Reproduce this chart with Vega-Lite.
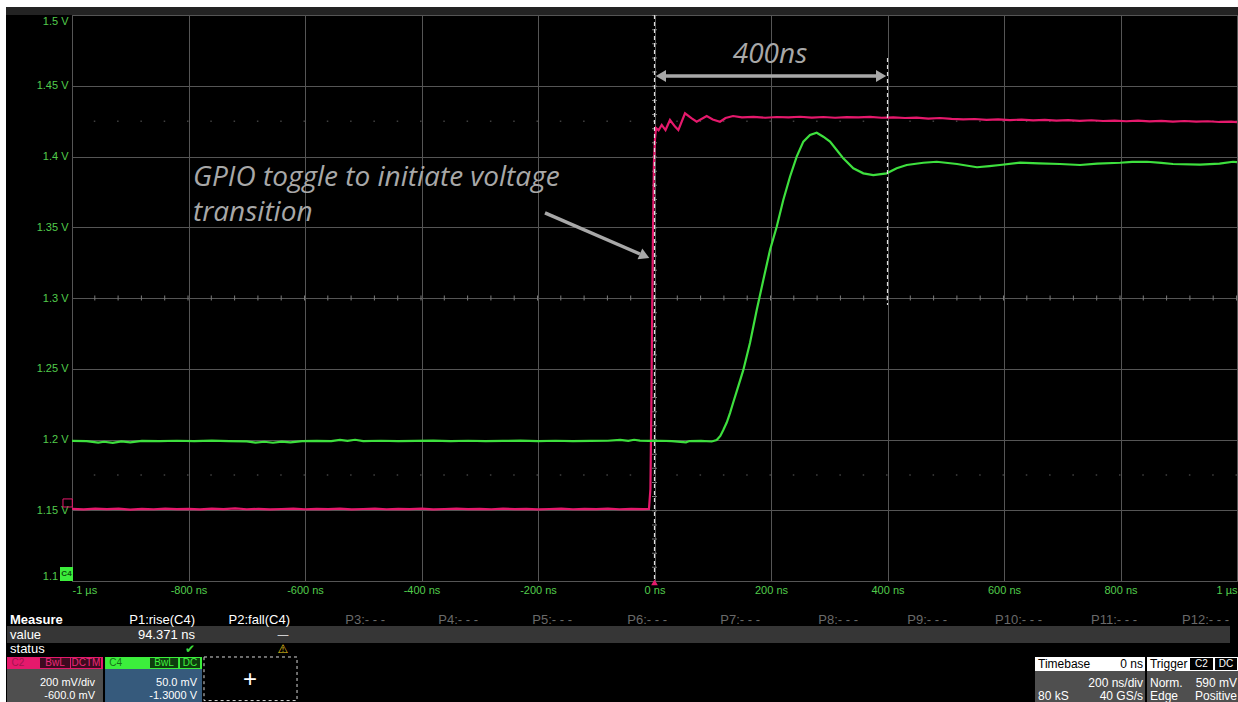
{
  "$schema": "https://vega.github.io/schema/vega-lite/v6.json",
  "width": 1165,
  "height": 566,
  "autosize": {"type": "none"},
  "padding": {"left": 72, "top": 15, "right": 1, "bottom": 121},
  "background": "#000000",
  "config": {
    "view": {"stroke": "#5a5a5a", "strokeWidth": 1},
    "axis": {"domain": false, "ticks": false, "labelColor": "#52cc4c", "labelFont": "Liberation Sans", "labelFontSize": 11, "gridColor": "#555555", "gridWidth": 1, "labelOverlap": false},
    "text": {"font": "Liberation Sans", "baseline": "middle"}
  },
  "datasets": {
    "traces": [
      {"ch":"C2","t":-1000,"v":1.1510},{"ch":"C2","t":-980,"v":1.1506},{"ch":"C2","t":-960,"v":1.1512},{"ch":"C2","t":-940,"v":1.1508},{"ch":"C2","t":-920,"v":1.1511},{"ch":"C2","t":-900,"v":1.1505},{"ch":"C2","t":-880,"v":1.1510},{"ch":"C2","t":-860,"v":1.1507},{"ch":"C2","t":-840,"v":1.1512},{"ch":"C2","t":-820,"v":1.1508},{"ch":"C2","t":-800,"v":1.1510},{"ch":"C2","t":-780,"v":1.1506},{"ch":"C2","t":-760,"v":1.1511},{"ch":"C2","t":-740,"v":1.1508},{"ch":"C2","t":-720,"v":1.1513},{"ch":"C2","t":-700,"v":1.1507},{"ch":"C2","t":-680,"v":1.1510},{"ch":"C2","t":-660,"v":1.1506},{"ch":"C2","t":-640,"v":1.1509},{"ch":"C2","t":-620,"v":1.1512},{"ch":"C2","t":-600,"v":1.1507},{"ch":"C2","t":-580,"v":1.1510},{"ch":"C2","t":-560,"v":1.1508},{"ch":"C2","t":-540,"v":1.1511},{"ch":"C2","t":-520,"v":1.1506},{"ch":"C2","t":-500,"v":1.1509},{"ch":"C2","t":-480,"v":1.1512},{"ch":"C2","t":-460,"v":1.1507},{"ch":"C2","t":-440,"v":1.1510},{"ch":"C2","t":-420,"v":1.1508},{"ch":"C2","t":-400,"v":1.1511},{"ch":"C2","t":-380,"v":1.1506},{"ch":"C2","t":-360,"v":1.1509},{"ch":"C2","t":-340,"v":1.1512},{"ch":"C2","t":-320,"v":1.1508},{"ch":"C2","t":-300,"v":1.1510},{"ch":"C2","t":-280,"v":1.1507},{"ch":"C2","t":-260,"v":1.1511},{"ch":"C2","t":-240,"v":1.1508},{"ch":"C2","t":-220,"v":1.1510},{"ch":"C2","t":-200,"v":1.1506},{"ch":"C2","t":-180,"v":1.1509},{"ch":"C2","t":-160,"v":1.1512},{"ch":"C2","t":-140,"v":1.1507},{"ch":"C2","t":-120,"v":1.1510},{"ch":"C2","t":-100,"v":1.1508},{"ch":"C2","t":-80,"v":1.1511},{"ch":"C2","t":-60,"v":1.1507},{"ch":"C2","t":-40,"v":1.1510},{"ch":"C2","t":-20,"v":1.1508},{"ch":"C2","t":-9.5,"v":1.1509},
      {"ch":"C2","t":-7,"v":1.1650},{"ch":"C2","t":-5.5,"v":1.2200},{"ch":"C2","t":-4,"v":1.2900},{"ch":"C2","t":-2.5,"v":1.3500},{"ch":"C2","t":-1,"v":1.3950},{"ch":"C2","t":0.8,"v":1.4120},{"ch":"C2","t":2.6,"v":1.4201},{"ch":"C2","t":7,"v":1.4185},{"ch":"C2","t":12.4,"v":1.4223},{"ch":"C2","t":18.9,"v":1.4187},{"ch":"C2","t":26.6,"v":1.4258},{"ch":"C2","t":35.2,"v":1.4211},{"ch":"C2","t":40.9,"v":1.4187},{"ch":"C2","t":52.4,"v":1.4305},{"ch":"C2","t":63.9,"v":1.4270},{"ch":"C2","t":72.4,"v":1.4246},{"ch":"C2","t":89.6,"v":1.4286},{"ch":"C2","t":100,"v":1.4262},{"ch":"C2","t":112.4,"v":1.4246},{"ch":"C2","t":122,"v":1.4272},{"ch":"C2","t":134.8,"v":1.4286},{"ch":"C2","t":150,"v":1.4276},
      {"ch":"C2","t":170,"v":1.4280},{"ch":"C2","t":190,"v":1.4274},{"ch":"C2","t":210,"v":1.4279},{"ch":"C2","t":230,"v":1.4276},{"ch":"C2","t":250,"v":1.4281},{"ch":"C2","t":270,"v":1.4275},{"ch":"C2","t":290,"v":1.4279},{"ch":"C2","t":310,"v":1.4274},{"ch":"C2","t":330,"v":1.4278},{"ch":"C2","t":350,"v":1.4276},{"ch":"C2","t":370,"v":1.4280},{"ch":"C2","t":390,"v":1.4274},{"ch":"C2","t":410,"v":1.4277},{"ch":"C2","t":430,"v":1.4272},{"ch":"C2","t":450,"v":1.4275},{"ch":"C2","t":470,"v":1.4268},{"ch":"C2","t":490,"v":1.4272},{"ch":"C2","t":510,"v":1.4266},{"ch":"C2","t":530,"v":1.4262},{"ch":"C2","t":550,"v":1.4265},{"ch":"C2","t":570,"v":1.4259},{"ch":"C2","t":590,"v":1.4262},{"ch":"C2","t":610,"v":1.4257},{"ch":"C2","t":630,"v":1.4261},{"ch":"C2","t":650,"v":1.4256},{"ch":"C2","t":670,"v":1.4259},{"ch":"C2","t":690,"v":1.4254},{"ch":"C2","t":710,"v":1.4257},{"ch":"C2","t":730,"v":1.4252},{"ch":"C2","t":750,"v":1.4256},{"ch":"C2","t":770,"v":1.4251},{"ch":"C2","t":790,"v":1.4254},{"ch":"C2","t":810,"v":1.4249},{"ch":"C2","t":830,"v":1.4253},{"ch":"C2","t":850,"v":1.4248},{"ch":"C2","t":870,"v":1.4252},{"ch":"C2","t":890,"v":1.4247},{"ch":"C2","t":910,"v":1.4251},{"ch":"C2","t":930,"v":1.4246},{"ch":"C2","t":950,"v":1.4249},{"ch":"C2","t":970,"v":1.4244},{"ch":"C2","t":990,"v":1.4247},{"ch":"C2","t":1000,"v":1.4243},
      {"ch":"C4","t":-1000,"v":1.1990},{"ch":"C4","t":-975,"v":1.1988},{"ch":"C4","t":-955,"v":1.1978},{"ch":"C4","t":-945,"v":1.1984},{"ch":"C4","t":-930,"v":1.1976},{"ch":"C4","t":-915,"v":1.1986},{"ch":"C4","t":-900,"v":1.1980},{"ch":"C4","t":-880,"v":1.1990},{"ch":"C4","t":-850,"v":1.1988},{"ch":"C4","t":-820,"v":1.1991},{"ch":"C4","t":-790,"v":1.1989},{"ch":"C4","t":-760,"v":1.1992},{"ch":"C4","t":-730,"v":1.1989},{"ch":"C4","t":-700,"v":1.1987},{"ch":"C4","t":-685,"v":1.1978},{"ch":"C4","t":-670,"v":1.1984},{"ch":"C4","t":-655,"v":1.1977},{"ch":"C4","t":-640,"v":1.1985},{"ch":"C4","t":-625,"v":1.1980},{"ch":"C4","t":-605,"v":1.1989},{"ch":"C4","t":-580,"v":1.1990},{"ch":"C4","t":-555,"v":1.1988},{"ch":"C4","t":-540,"v":1.1997},{"ch":"C4","t":-527,"v":1.1990},{"ch":"C4","t":-514,"v":1.1998},{"ch":"C4","t":-500,"v":1.1989},{"ch":"C4","t":-470,"v":1.1991},{"ch":"C4","t":-440,"v":1.1988},{"ch":"C4","t":-410,"v":1.1990},{"ch":"C4","t":-380,"v":1.1992},{"ch":"C4","t":-350,"v":1.1989},{"ch":"C4","t":-320,"v":1.1991},{"ch":"C4","t":-290,"v":1.1988},{"ch":"C4","t":-260,"v":1.1990},{"ch":"C4","t":-230,"v":1.1992},{"ch":"C4","t":-200,"v":1.1989},{"ch":"C4","t":-170,"v":1.1991},{"ch":"C4","t":-140,"v":1.1988},{"ch":"C4","t":-110,"v":1.1990},{"ch":"C4","t":-80,"v":1.1991},{"ch":"C4","t":-59,"v":1.1997},{"ch":"C4","t":-45,"v":1.1991},{"ch":"C4","t":-35,"v":1.1998},{"ch":"C4","t":-25,"v":1.1992},{"ch":"C4","t":-10,"v":1.1990},{"ch":"C4","t":10,"v":1.1991},{"ch":"C4","t":30,"v":1.1989},{"ch":"C4","t":54,"v":1.1980},{"ch":"C4","t":60,"v":1.1989},{"ch":"C4","t":80,"v":1.1990},
      {"ch":"C4","t":98.2,"v":1.1986},{"ch":"C4","t":106.8,"v":1.1996},{"ch":"C4","t":113,"v":1.2025},{"ch":"C4","t":118.1,"v":1.2067},{"ch":"C4","t":124,"v":1.2120},{"ch":"C4","t":129.6,"v":1.2187},{"ch":"C4","t":135,"v":1.2260},{"ch":"C4","t":141.1,"v":1.2340},{"ch":"C4","t":152.4,"v":1.2490},{"ch":"C4","t":163.9,"v":1.2682},{"ch":"C4","t":175.5,"v":1.2915},{"ch":"C4","t":186.8,"v":1.3127},{"ch":"C4","t":198.3,"v":1.3339},{"ch":"C4","t":209.8,"v":1.3504},{"ch":"C4","t":221.1,"v":1.3693},{"ch":"C4","t":232.6,"v":1.3857},{"ch":"C4","t":244.1,"v":1.3999},{"ch":"C4","t":255.5,"v":1.4105},{"ch":"C4","t":267,"v":1.4152},{"ch":"C4","t":278.5,"v":1.4168},{"ch":"C4","t":289.8,"v":1.4140},{"ch":"C4","t":301.3,"v":1.4105},{"ch":"C4","t":312.8,"v":1.4046},{"ch":"C4","t":324.1,"v":1.3987},{"ch":"C4","t":341.3,"v":1.3917},{"ch":"C4","t":358.5,"v":1.3881},{"ch":"C4","t":375.6,"v":1.3869},{"ch":"C4","t":398.6,"v":1.3881},{"ch":"C4","t":415.8,"v":1.3917},{"ch":"C4","t":433,"v":1.3940},{"ch":"C4","t":461.5,"v":1.3956},{"ch":"C4","t":484.5,"v":1.3963},{"ch":"C4","t":519.3,"v":1.3947},{"ch":"C4","t":553.6,"v":1.3924},{"ch":"C4","t":575,"v":1.3932},{"ch":"C4","t":593.1,"v":1.3940},{"ch":"C4","t":627.5,"v":1.3956},{"ch":"C4","t":660,"v":1.3952},{"ch":"C4","t":696.1,"v":1.3947},{"ch":"C4","t":730.5,"v":1.3940},{"ch":"C4","t":760,"v":1.3950},{"ch":"C4","t":799.1,"v":1.3956},{"ch":"C4","t":820,"v":1.3962},{"ch":"C4","t":845.5,"v":1.3963},{"ch":"C4","t":870,"v":1.3955},{"ch":"C4","t":890.1,"v":1.3947},{"ch":"C4","t":936.5,"v":1.3942},{"ch":"C4","t":970,"v":1.3950},{"ch":"C4","t":993.1,"v":1.3963},{"ch":"C4","t":1000,"v":1.3960}
    ],
    "panelRects": [
      {"part":"screenEdge","t":-1123.6,"t2":1001.7,"v":1.5106,"v2":1.50565},
      {"part":"screenEdge","t":-1123.6,"t2":-1113.3,"v":1.5106,"v2":1.0145},
      {"part":"titleBar","t":-1113.3,"t2":1001.7,"v":1.50565,"v2":1.5},
      {"part":"valueRow","t":-1111.6,"t2":988,"v":1.0682,"v2":1.0562},
      {"part":"c2Head","t":-1111.6,"t2":-946.8,"v":1.04629,"v2":1.03781},
      {"part":"chBody","t":-1111.6,"t2":-946.8,"v":1.03781,"v2":1.0145},
      {"part":"c2Tag","t":-1054.9,"t2":-1003.4,"v":1.0456,"v2":1.0385},
      {"part":"c2Tag","t":-1001.7,"t2":-950.2,"v":1.0456,"v2":1.0385},
      {"part":"c4Head","t":-943.3,"t2":-776.8,"v":1.04629,"v2":1.03781},
      {"part":"c4Body","t":-943.3,"t2":-776.8,"v":1.03781,"v2":1.0145},
      {"part":"c4Tag","t":-866.1,"t2":-817.9,"v":1.0456,"v2":1.0385},
      {"part":"c4Tag","t":-814.6,"t2":-780.3,"v":1.0456,"v2":1.0385},
      {"part":"boxHead","t":653.2,"t2":842.1,"v":1.04629,"v2":1.0364},
      {"part":"chBody","t":653.2,"t2":842.1,"v":1.0364,"v2":1.0145},
      {"part":"boxHead","t":845.5,"t2":1001.7,"v":1.04629,"v2":1.0364},
      {"part":"chBody","t":845.5,"t2":1001.7,"v":1.0364,"v2":1.0145},
      {"part":"trigTag","t":919.3,"t2":958.8,"v":1.0456,"v2":1.0371},
      {"part":"trigTag","t":962.3,"t2":1000,"v":1.0456,"v2":1.0371},
      {"part":"c4Marker","t":-1020.6,"t2":-998.3,"v":1.1099,"v2":1.1}
    ],
    "panelText": [
      {"label":"Measure","role":"head","t":-1106.4,"v":1.07244},
      {"label":"value","role":"rowName","t":-1106.4,"v":1.06184},
      {"label":"status","role":"rowName","t":-1106.4,"v":1.05194},
      {"label":"P1:rise(C4)","role":"param","t":-788.8,"v":1.07244},
      {"label":"P2:fall(C4)","role":"param","t":-625.8,"v":1.07244},
      {"label":"P3:- - -","role":"paramOff","t":-462.7,"v":1.07244},
      {"label":"P4:- - -","role":"paramOff","t":-303.0,"v":1.07244},
      {"label":"P5:- - -","role":"paramOff","t":-141.6,"v":1.07244},
      {"label":"P6:- - -","role":"paramOff","t":21.5,"v":1.07244},
      {"label":"P7:- - -","role":"paramOff","t":181.1,"v":1.07244},
      {"label":"P8:- - -","role":"paramOff","t":349.4,"v":1.07244},
      {"label":"P9:- - -","role":"paramOff","t":502.1,"v":1.07244},
      {"label":"P10:- - -","role":"paramOff","t":665.2,"v":1.07244},
      {"label":"P11:- - -","role":"paramOff","t":828.3,"v":1.07244},
      {"label":"P12:- - -","role":"paramOff","t":986.3,"v":1.07244},
      {"label":"94.371 ns","role":"reading","t":-788.8,"v":1.06184},
      {"label":"—","role":"none","t":-637.8,"v":1.06184},
      {"label":"✔","role":"ok","t":-797.4,"v":1.05194},
      {"label":"⚠","role":"warn","t":-637.8,"v":1.05194},
      {"label":"C2","role":"c2Name","t":-1104,"v":1.0420},
      {"label":"BwL","role":"c2Tag","t":-1029.2,"v":1.0420},
      {"label":"DCTM","role":"c2Tag","t":-976,"v":1.0420},
      {"label":"C4","role":"c4Name","t":-936,"v":1.0420},
      {"label":"BwL","role":"c4Tag","t":-842,"v":1.0420},
      {"label":"DC","role":"c4Tag","t":-797.5,"v":1.0420},
      {"label":"200 mV/div","role":"chScale","t":-960.5,"v":1.02792},
      {"label":"-600.0 mV","role":"chScale","t":-960.5,"v":1.01873},
      {"label":"50.0 mV","role":"chScale","t":-785.4,"v":1.02792},
      {"label":"-1.3000 V","role":"chScale","t":-785.4,"v":1.01873},
      {"label":"+","role":"add","t":-694.4,"v":1.0303},
      {"label":"Timebase","role":"boxTitle","t":658.4,"v":1.04134},
      {"label":"0 ns","role":"boxTitleVal","t":838.6,"v":1.04134},
      {"label":"200 ns/div","role":"tbValue","t":838.6,"v":1.02792},
      {"label":"80 kS","role":"tbName","t":658.4,"v":1.01873},
      {"label":"40 GS/s","role":"tbValue","t":838.6,"v":1.01873},
      {"label":"Trigger","role":"boxTitle","t":850.6,"v":1.04134},
      {"label":"C2","role":"trigTag","t":939,"v":1.0413},
      {"label":"DC","role":"trigTag","t":981,"v":1.0413},
      {"label":"Norm.","role":"tbName","t":850.6,"v":1.02792},
      {"label":"590 mV","role":"tbValue","t":1000,"v":1.02792},
      {"label":"Edge","role":"tbName","t":850.6,"v":1.01873},
      {"label":"Positive","role":"tbValue","t":1000,"v":1.01873},
      {"label":"C4","role":"markerName","t":-1009.5,"v":1.1050}
    ]
  },
  "layer": [
    {
      "data": {"name": "panelRects"},
      "mark": {"type": "rect"},
      "encoding": {
        "x": {"field": "t", "type": "quantitative"},
        "x2": {"field": "t2"},
        "y": {"field": "v", "type": "quantitative"},
        "y2": {"field": "v2"},
        "fill": {"field": "part", "type": "nominal", "legend": null,
          "scale": {"domain": ["screenEdge","titleBar","valueRow","c2Head","chBody","c2Tag","c4Head","c4Body","c4Tag","boxHead","trigTag","c4Marker"],
                    "range": ["#ffffff","#232323","#363636","#e5196c","#4f4f4f","#3d0a20","#3cee3c","#365a7c","#0e3d0e","#ffffff","#000000","#3cee3c"]}}
      }
    },
    {
      "data": {"values": [{"t": -773.4, "t2": -613.7, "v": 1.04629, "v2": 1.0155}]},
      "mark": {"type": "rect", "fillOpacity": 0, "stroke": "#d8d8d8", "strokeDash": [3, 3], "strokeWidth": 1},
      "encoding": {
        "x": {"field": "t", "type": "quantitative"}, "x2": {"field": "t2"},
        "y": {"field": "v", "type": "quantitative"}, "y2": {"field": "v2"}
      }
    },
    {
      "data": {"values": [{"t": -1015.5, "t2": -999.5, "v": 1.1580, "v2": 1.1523}]},
      "mark": {"type": "rect", "fillOpacity": 0, "stroke": "#e5196c", "strokeWidth": 1},
      "encoding": {
        "x": {"field": "t", "type": "quantitative"}, "x2": {"field": "t2"},
        "y": {"field": "v", "type": "quantitative"}, "y2": {"field": "v2"}
      }
    },
    {
      "data": {"values": [{"v": 1.425}, {"v": 1.175}]},
      "mark": {"type": "rule", "color": "#6a6a6a", "strokeWidth": 1.5, "strokeDash": [1.5, 21.8], "opacity": 0.6},
      "encoding": {"y": {"field": "v", "type": "quantitative"}}
    },
    {
      "data": {"values": [{"v": 1.3}]},
      "mark": {"type": "rule", "color": "#7a7a7a", "strokeWidth": 5, "strokeDash": [1, 22.3]},
      "encoding": {"y": {"field": "v", "type": "quantitative"}}
    },
    {
      "data": {"values": [{"t": 0}]},
      "mark": {"type": "rule", "color": "#7a7a7a", "strokeWidth": 5, "strokeDash": [1, 13.15]},
      "encoding": {"x": {"field": "t", "type": "quantitative"}}
    },
    {
      "data": {"name": "traces"},
      "mark": {"type": "line", "strokeWidth": 2.2, "interpolate": "linear"},
      "encoding": {
        "x": {"field": "t", "type": "quantitative",
          "scale": {"domain": [-1000, 1000], "nice": false, "zero": false},
          "axis": {"title": null, "grid": true, "values": [-1000,-800,-600,-400,-200,0,200,400,600,800,1000], "labelFlush": true, "labelPadding": 3,
                   "labelExpr": "datum.value == -1000 ? '-1 µs' : datum.value == 1000 ? '1 µs' : datum.value + ' ns'"}},
        "y": {"field": "v", "type": "quantitative",
          "scale": {"domain": [1.1, 1.5], "nice": false, "zero": false},
          "axis": {"title": null, "grid": true, "values": [1.1,1.15,1.2,1.25,1.3,1.35,1.4,1.45,1.5], "labelFlush": true, "labelPadding": 4,
                   "labelExpr": "format(datum.value, '.2~f') + ' V'"}},
        "stroke": {"field": "ch", "type": "nominal", "legend": null, "scale": {"domain": ["C2","C4"], "range": ["#e5196c","#3ee03e"]}}
      }
    },
    {
      "data": {"values": [{"t": 0}]},
      "mark": {"type": "rule", "color": "#e0e0e0", "strokeWidth": 1.2, "strokeDash": [4, 3]},
      "encoding": {"x": {"field": "t", "type": "quantitative"}}
    },
    {
      "data": {"values": [{"t": 400, "v": 1.4696, "v2": 1.295}]},
      "mark": {"type": "rule", "color": "#e0e0e0", "strokeWidth": 1.2, "strokeDash": [4, 3]},
      "encoding": {"x": {"field": "t", "type": "quantitative"}, "y": {"field": "v", "type": "quantitative"}, "y2": {"field": "v2"}}
    },
    {
      "data": {"values": [{"t": 8, "t2": 392, "v": 1.4569}]},
      "mark": {"type": "rule", "color": "#a8a8a8", "strokeWidth": 3.5},
      "encoding": {"x": {"field": "t", "type": "quantitative"}, "x2": {"field": "t2"}, "y": {"field": "v", "type": "quantitative"}}
    },
    {
      "data": {"values": [{"t": 11, "v": 1.4569}]},
      "mark": {"type": "point", "shape": "triangle-left", "filled": true, "size": 140, "color": "#a8a8a8", "opacity": 1},
      "encoding": {"x": {"field": "t", "type": "quantitative"}, "y": {"field": "v", "type": "quantitative"}}
    },
    {
      "data": {"values": [{"t": 389, "v": 1.4569}]},
      "mark": {"type": "point", "shape": "triangle-right", "filled": true, "size": 140, "color": "#a8a8a8", "opacity": 1},
      "encoding": {"x": {"field": "t", "type": "quantitative"}, "y": {"field": "v", "type": "quantitative"}}
    },
    {
      "data": {"values": [{"t": -188, "t2": -24.9, "v": 1.3601, "v2": 1.3311}]},
      "mark": {"type": "rule", "color": "#a8a8a8", "strokeWidth": 3.5},
      "encoding": {"x": {"field": "t", "type": "quantitative"}, "x2": {"field": "t2"}, "y": {"field": "v", "type": "quantitative"}, "y2": {"field": "v2"}}
    },
    {
      "data": {"values": [{"t": -17, "v": 1.3297}]},
      "mark": {"type": "point", "shape": "triangle-right", "filled": true, "size": 140, "angle": 23.5, "color": "#a8a8a8", "opacity": 1},
      "encoding": {"x": {"field": "t", "type": "quantitative"}, "y": {"field": "v", "type": "quantitative"}}
    },
    {
      "data": {"values": [{"label": "GPIO toggle to initiate voltage", "t": -792.3, "v": 1.3848}, {"label": "transition", "t": -792.3, "v": 1.3601}]},
      "mark": {"type": "text", "align": "left", "font": "Open Sans", "fontStyle": "italic", "fontSize": 28, "color": "#a8a8a8"},
      "encoding": {"x": {"field": "t", "type": "quantitative"}, "y": {"field": "v", "type": "quantitative"}, "text": {"field": "label"}}
    },
    {
      "data": {"values": [{"label": "400ns", "t": 198.3, "v": 1.4717}]},
      "mark": {"type": "text", "align": "center", "font": "Open Sans", "fontStyle": "italic", "fontSize": 28, "color": "#a8a8a8"},
      "encoding": {"x": {"field": "t", "type": "quantitative"}, "y": {"field": "v", "type": "quantitative"}, "text": {"field": "label"}}
    },
    {
      "data": {"values": [{"t": 0, "v": 1.0990}]},
      "mark": {"type": "point", "shape": "triangle-up", "filled": true, "size": 45, "color": "#e5196c", "opacity": 1},
      "encoding": {"x": {"field": "t", "type": "quantitative"}, "y": {"field": "v", "type": "quantitative"}}
    },
    {
      "data": {"name": "panelText"},
      "transform": [{"filter": {"field": "role", "equal": "head"}}],
      "mark": {"type": "text", "align": "left", "fontSize": 13, "fontWeight": "bold"},
      "encoding": {"x": {"field": "t", "type": "quantitative"}, "y": {"field": "v", "type": "quantitative"}, "text": {"field": "label"},
        "color": {"field": "role", "type": "nominal", "legend": null,
          "scale": {"domain": ["head","rowName","param","paramOff","reading","none","ok","warn","chScale","tbValue","tbName","boxTitle","boxTitleVal","c2Name","c4Name","c2Tag","c4Tag","trigTag","add","markerName"],
                    "range": ["#ffffff","#ffffff","#ffffff","#6a6a6a","#ffffff","#cfcfcf","#3cd83c","#f2d21e","#ffffff","#ffffff","#ffffff","#000000","#000000","#a3124f","#167016","#ec2a78","#40f040","#ffffff","#ffffff","#0b4f0b"]}}}
    },
    {
      "data": {"name": "panelText"},
      "transform": [{"filter": {"field": "role", "oneOf": ["rowName"]}}],
      "mark": {"type": "text", "align": "left", "fontSize": 13},
      "encoding": {"x": {"field": "t", "type": "quantitative"}, "y": {"field": "v", "type": "quantitative"}, "text": {"field": "label"}, "color": {"field": "role", "type": "nominal", "legend": null}}
    },
    {
      "data": {"name": "panelText"},
      "transform": [{"filter": {"field": "role", "oneOf": ["tbName", "boxTitle"]}}],
      "mark": {"type": "text", "align": "left", "fontSize": 12},
      "encoding": {"x": {"field": "t", "type": "quantitative"}, "y": {"field": "v", "type": "quantitative"}, "text": {"field": "label"}, "color": {"field": "role", "type": "nominal", "legend": null}}
    },
    {
      "data": {"name": "panelText"},
      "transform": [{"filter": {"field": "role", "oneOf": ["c2Name", "c4Name"]}}],
      "mark": {"type": "text", "align": "left", "fontSize": 10},
      "encoding": {"x": {"field": "t", "type": "quantitative"}, "y": {"field": "v", "type": "quantitative"}, "text": {"field": "label"}, "color": {"field": "role", "type": "nominal", "legend": null}}
    },
    {
      "data": {"name": "panelText"},
      "transform": [{"filter": {"field": "role", "oneOf": ["param", "paramOff", "reading"]}}],
      "mark": {"type": "text", "align": "right", "fontSize": 13},
      "encoding": {"x": {"field": "t", "type": "quantitative"}, "y": {"field": "v", "type": "quantitative"}, "text": {"field": "label"}, "color": {"field": "role", "type": "nominal", "legend": null}}
    },
    {
      "data": {"name": "panelText"},
      "transform": [{"filter": {"field": "role", "oneOf": ["chScale"]}}],
      "mark": {"type": "text", "align": "right", "fontSize": 11},
      "encoding": {"x": {"field": "t", "type": "quantitative"}, "y": {"field": "v", "type": "quantitative"}, "text": {"field": "label"}, "color": {"field": "role", "type": "nominal", "legend": null}}
    },
    {
      "data": {"name": "panelText"},
      "transform": [{"filter": {"field": "role", "oneOf": ["tbValue", "boxTitleVal"]}}],
      "mark": {"type": "text", "align": "right", "fontSize": 12},
      "encoding": {"x": {"field": "t", "type": "quantitative"}, "y": {"field": "v", "type": "quantitative"}, "text": {"field": "label"}, "color": {"field": "role", "type": "nominal", "legend": null}}
    },
    {
      "data": {"name": "panelText"},
      "transform": [{"filter": {"field": "role", "oneOf": ["none", "ok", "warn"]}}],
      "mark": {"type": "text", "align": "center", "fontSize": 12, "font": "DejaVu Sans"},
      "encoding": {"x": {"field": "t", "type": "quantitative"}, "y": {"field": "v", "type": "quantitative"}, "text": {"field": "label"}, "color": {"field": "role", "type": "nominal", "legend": null}}
    },
    {
      "data": {"name": "panelText"},
      "transform": [{"filter": {"field": "role", "oneOf": ["c2Tag", "c4Tag", "trigTag"]}}],
      "mark": {"type": "text", "align": "center", "fontSize": 10},
      "encoding": {"x": {"field": "t", "type": "quantitative"}, "y": {"field": "v", "type": "quantitative"}, "text": {"field": "label"}, "color": {"field": "role", "type": "nominal", "legend": null}}
    },
    {
      "data": {"name": "panelText"},
      "transform": [{"filter": {"field": "role", "oneOf": ["add"]}}],
      "mark": {"type": "text", "align": "center", "fontSize": 24},
      "encoding": {"x": {"field": "t", "type": "quantitative"}, "y": {"field": "v", "type": "quantitative"}, "text": {"field": "label"}, "color": {"field": "role", "type": "nominal", "legend": null}}
    },
    {
      "data": {"name": "panelText"},
      "transform": [{"filter": {"field": "role", "oneOf": ["markerName"]}}],
      "mark": {"type": "text", "align": "center", "fontSize": 8, "fontWeight": "bold"},
      "encoding": {"x": {"field": "t", "type": "quantitative"}, "y": {"field": "v", "type": "quantitative"}, "text": {"field": "label"}, "color": {"field": "role", "type": "nominal", "legend": null}}
    }
  ]
}
